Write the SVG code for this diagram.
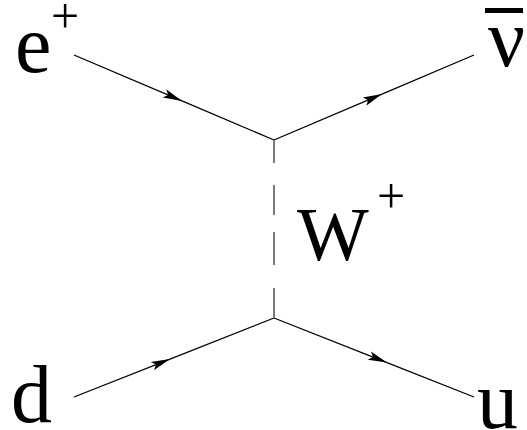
<svg xmlns="http://www.w3.org/2000/svg" width="527" height="430" viewBox="0 0 527 430">
<defs>
<style>
.f{stroke:#000;stroke-width:1.3;fill:none}
.w{stroke:#7a7a7a;stroke-width:2;fill:none}
.big{font-size:82px}
.sup{font-size:50px}
</style>
<marker id="ah" markerUnits="userSpaceOnUse" markerWidth="24" markerHeight="14" viewBox="-20 -7 24 14" refX="0" refY="0" orient="auto">
<path d="M0,0 L-19,-4.5 L-15,0 L-19,4.5 Z" fill="#000"/>
</marker>
</defs>
<rect width="527" height="430" fill="#fff"/>
<g id="connectors">
<path class="f" d="M74,55 L182,100.9" marker-end="url(#ah)"/>
<path class="f" d="M182,100.9 L274,140"/>
<path class="f" d="M274,140 L382,94.1" marker-end="url(#ah)"/>
<path class="f" d="M382,94.1 L474,55"/>
<path class="f" d="M74,397 L170,359.1" marker-end="url(#ah)"/>
<path class="f" d="M170,359.1 L274,318"/>
<path class="f" d="M274,318 L387,362.6" marker-end="url(#ah)"/>
<path class="f" d="M387,362.6 L474,397"/>
<path class="w" d="M274,140 V163 M274,185 V215 M274,232 V265 M274,288 V318"/>
</g>
<g font-family="Liberation Serif, serif" fill="#000">
<g id="e-plus"><text class="big" x="15" y="72">e</text><text class="sup" x="51" y="33">+</text></g>
<g id="antineutrino"><text class="big" x="488" y="66">ν</text><rect x="485" y="8" width="38" height="5" fill="#000"/></g>
<g id="W-plus"><text x="297" y="260" font-size="76">W</text><text class="sup" x="377" y="213">+</text></g>
<g id="d"><text class="big" x="11" y="422">d</text></g>
<g id="u"><text class="big" x="477" y="428">u</text></g>
</g>
</svg>
